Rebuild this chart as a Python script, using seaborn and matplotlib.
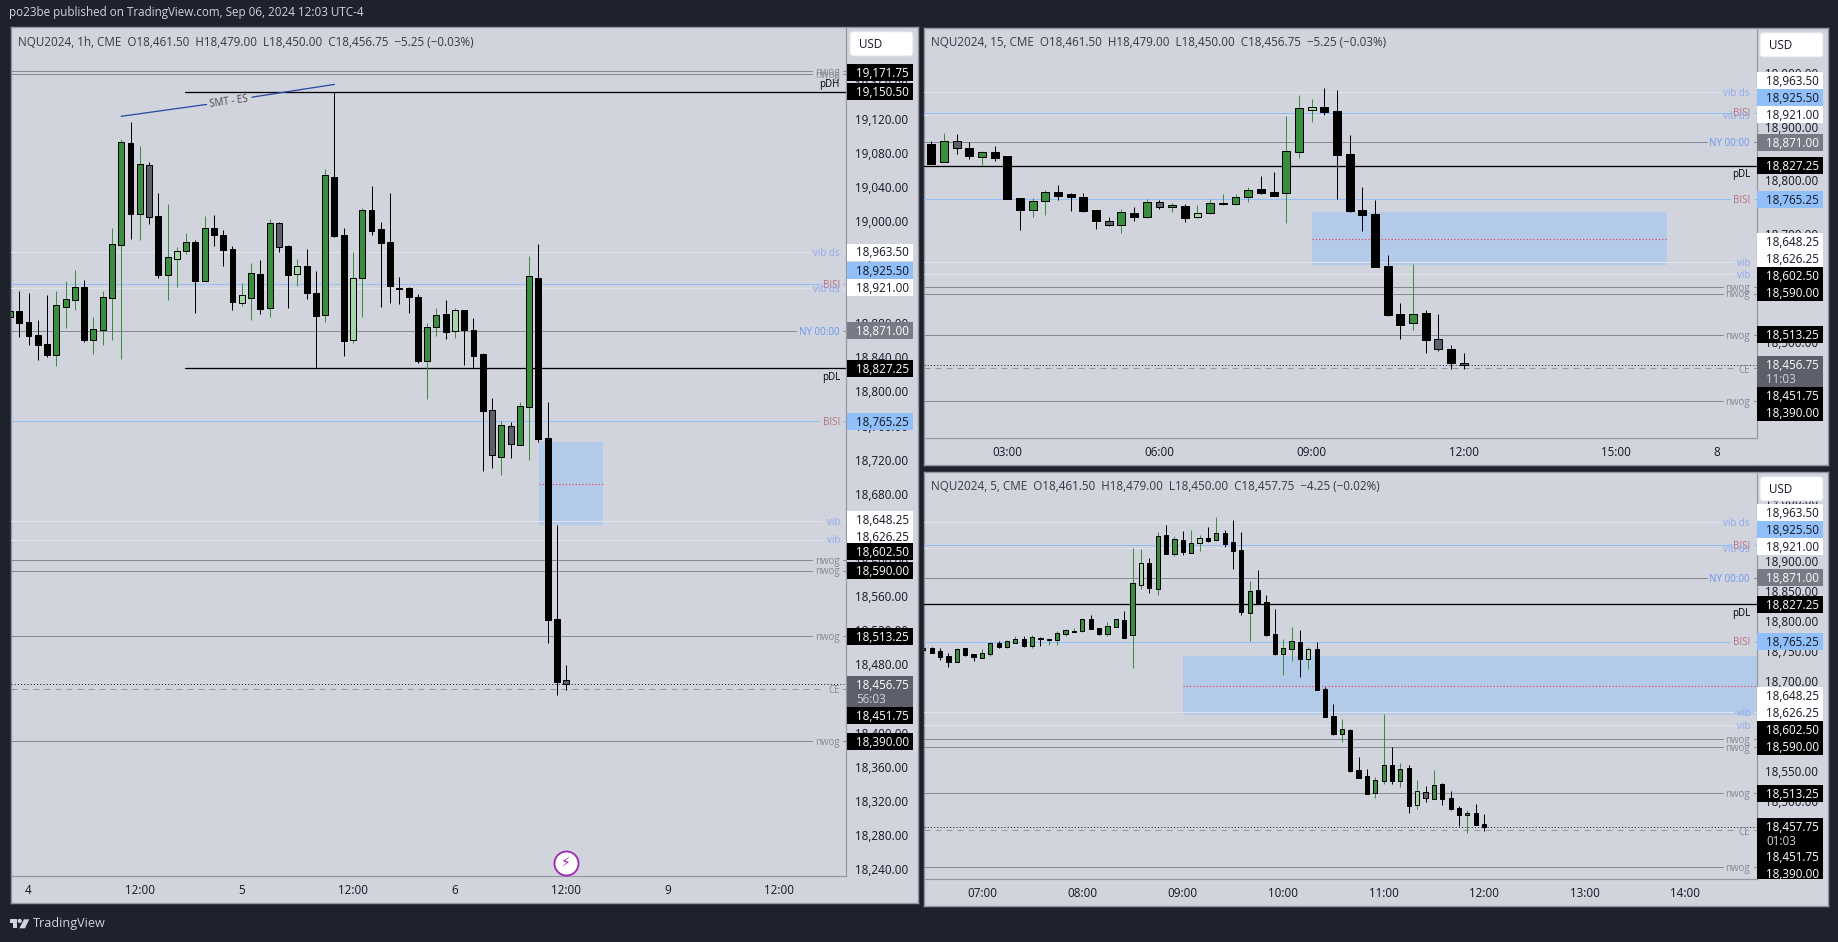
import numpy as np
import seaborn as sns
import matplotlib
matplotlib.use("Agg")
import matplotlib.pyplot as plt
from matplotlib.patches import Rectangle, FancyBboxPatch, Polygon, Circle
from matplotlib.transforms import IdentityTransform

# =============================================================================
# Data (NQU2024 on three timeframes)
# =============================================================================

# 1h candles
h1_kinds = "gkkkk" "gggkg" "gggkg" "skglg" "kgkkk" "lgkgs" "klkkg" "kklgk" "kkkkk" "ggklk" "kksgs" "ggkkks"
h1_open = [18887.7, 18894.3, 18881, 18866.2, 18855.6, 18843.1, 18899.4, 18907.6, 18922.5, 18860.7,
           18872.5, 18910, 18972.1, 19091.3, 19008.4, 19065.5, 19005.7, 18936.9, 18955.7, 18965.1,
           18975.2, 18929.9, 18991.2, 18983.4, 18967, 18904.1, 18910, 18937.7, 18898.2, 18997.1,
           18970.5, 18938.1, 18947.1, 18915.4, 18890, 19051.4, 18983.4, 18860.7, 18932.6, 19012.4,
           18990.5, 18975.2, 18921.3, 18921.3, 18910.7, 18836.1, 18876, 18890.4, 18870.5, 18895.5,
           18872, 18843.9, 18777.9, 18723.5, 18759.1, 18737.6, 18782.2, 18933, 18745, 18533.2, 18461.5]
h1_high = [18934.6, 18917.8, 18915.4, 18883.8, 18913.1, 18917.8, 18929.5, 18942.4, 18930.7, 18886.9,
           18918.2, 18991.6, 19096, 19115.9, 19087.8, 19069, 19032.7, 19019.8, 18969, 18985.8,
           18977.6, 19005.7, 19006.9, 18989.3, 18970.5, 18927.5, 18950.6, 18954.1, 19002.2, 18999.1,
           18971.7, 18955.3, 18967, 18941.2, 19060.8, 19150.5, 18991.6, 18963.5, 19015.1, 19040.9,
           18998.7, 19032.7, 18934.2, 18922.5, 18914.3, 18880.3, 18897.8, 18907.2, 18897.8, 18895.5,
           18886.1, 18845.1, 18792.3, 18765, 18764.2, 18787.6, 18958.8, 18972.9, 18787.2, 18643, 18479]
h1_low = [18877.9, 18864.2, 18854.5, 18836.9, 18840.8, 18830.2, 18874.8, 18895.5, 18858.4, 18843.9,
          18854.5, 18860.3, 18838.5, 18978.7, 18977.6, 18996.3, 18933, 18907.2, 18922.9, 18961.2,
          18892.4, 18929.9, 18970.5, 18947.1, 18895.5, 18900.2, 18883.8, 18890.8, 18887.7, 18963.5,
          18897.8, 18923.6, 18908.4, 18827.1, 18881.4, 18981.1, 18841.6, 18856.8, 18887.3, 18983.4,
          18899, 18903.7, 18902.5, 18892, 18833.4, 18791.5, 18865, 18861.5, 18862.7, 18831,
          18827.1, 18706.7, 18710.2, 18702, 18722, 18737.6, 18719.6, 18741.1, 18504.7, 18444.1, 18450]
h1_close = [18894.3, 18880.6, 18865.4, 18854.5, 18842.7, 18901, 18908, 18922.1, 18860.3, 18872.8,
            18910.4, 18972.5, 19092.1, 19008.4, 19066.3, 19004.9, 18936.5, 18957.3, 18964.3, 18974.8,
            18929.9, 18991.2, 18983.8, 18965.8, 18904.9, 18912.7, 18938.5, 18896.7, 18997.1, 18969.8,
            18936.5, 18946.7, 18915.4, 18888.5, 19053.4, 18982.3, 18859.2, 18932.6, 19012.4, 18988.5,
            18974.1, 18923.6, 18920.5, 18910.7, 18835.7, 18875.2, 18889.2, 18869.7, 18895.1, 18872,
            18842, 18777.5, 18725.9, 18760.3, 18738.8, 18782.5, 18935, 18744.2, 18532.1, 18459.8, 18456.75]

# 15 minute candles
m15_kinds = "kgskg" "kkkgg" "kkkks" "gkgsg" "klggg" "gkkgg" "lkkkk" "kkkgk" "sks"
m15_open = [18867.5, 18833.5, 18872.5, 18859.5, 18844, 18852.1, 18844.7, 18766.7, 18745.7, 18762.4,
            18777.8, 18774.1, 18768.5, 18744.4, 18724, 18716.6, 18738.9, 18731.4, 18759.3, 18750,
            18751.9, 18731.4, 18738.9, 18756.8, 18756.8, 18768.5, 18783.4, 18777.8, 18776, 18852.1,
            18931.3, 18935.6, 18928.2, 18848.4, 18744.4, 18737, 18640.5, 18551.4, 18534.7, 18553.2,
            18504.9, 18486.4, 18461.5]
m15_high = [18872.5, 18887.3, 18886, 18871.3, 18854.5, 18863.8, 18844.7, 18766.7, 18767.3, 18782.2,
            18791.4, 18776.6, 18776.6, 18744.4, 18732, 18746.9, 18750.6, 18765.4, 18763.6, 18757.4,
            18756.2, 18754.3, 18765.4, 18774.8, 18774.8, 18787.7, 18808.2, 18815.6, 18919.5, 18958.5,
            18951, 18971.5, 18967.8, 18884.2, 18787.7, 18763.6, 18661.5, 18572.4, 18644.8, 18559.4,
            18551.4, 18494.4, 18479]
m15_low = [18831, 18833.5, 18849.6, 18840.3, 18828.6, 18836.6, 18766, 18708.5, 18732.7, 18736.4,
           18764.2, 18743.8, 18741.3, 18710.4, 18716, 18703, 18725.2, 18730.8, 18747.5, 18741.9,
           18723.4, 18730.8, 18738.2, 18754.3, 18754.9, 18760.5, 18775.4, 18771.7, 18721.5, 18842.2,
           18909, 18922, 18766, 18741.3, 18706.7, 18639.9, 18548.9, 18506.2, 18522.9, 18480.2,
           18483.9, 18450, 18450]
m15_close = [18831, 18872.5, 18860.7, 18845.9, 18852.1, 18842.2, 18766, 18745.7, 18761.1, 18777.8,
             18771.7, 18769.8, 18743.8, 18725.2, 18716.6, 18740.7, 18732.7, 18759.3, 18750, 18753.7,
             18730.8, 18738.9, 18757.4, 18758, 18768.5, 18781.5, 18777.2, 18771.7, 18853.9, 18933.7,
             18935.6, 18927.6, 18847.7, 18743.2, 18736.4, 18639.9, 18550.8, 18532.2, 18552.6, 18504.4,
             18486.4, 18461.6, 18456.75]

# 5 minute candles
m5_kinds = "gkkkg" "kkggk" "ggkgk" "ggggg" "kkggk" "glkgk" "gkglk" "gkkkg" "kkkgg" "klkkk" "gkkkg" "gkgkl" "sgkkk" "gkk"
m5_open = [18750.7, 18754, 18749, 18740.7, 18731.8, 18754, 18744, 18738.5, 18745.1, 18762.3,
           18756.8, 18763.4, 18769, 18758.4, 18771.2, 18768.2, 18768.4, 18778.4, 18781.7, 18783.4,
           18802.2, 18787.2, 18778.4, 18790, 18800.5, 18776.7, 18859.8, 18895.3, 18853.2, 18941.8,
           18911.4, 18933.5, 18913, 18929.7, 18936.9, 18934.6, 18945.2, 18930.2, 18916.9, 18813.3,
           18850.4, 18830.5, 18777.3, 18745.1, 18753.4, 18764, 18736.8, 18752.3, 18685.8, 18641,
           18612.2, 18618.8, 18551.8, 18541.2, 18514.1, 18534, 18559.5, 18534, 18554.5, 18494.1,
           18514.6, 18504.1, 18528.5, 18504.7, 18488.6, 18476.4, 18479.7, 18461.5]
m5_high = [18754, 18755.7, 18754, 18745.7, 18754.6, 18754, 18744, 18752.9, 18764.5, 18766.2,
           18767.9, 18774.5, 18774.5, 18776.2, 18772.8, 18769, 18782.8, 18786.1, 18787.8, 18804.4,
           18809.4, 18787.2, 18797.8, 18802.2, 18816.1, 18920.8, 18919.1, 18903.6, 18947.4, 18959,
           18940.7, 18949, 18950.7, 18942.4, 18955.7, 18972.3, 18950.7, 18967.3, 18947.4, 18865.9,
           18884.2, 18842.7, 18819.4, 18769.5, 18789.5, 18784.5, 18756.2, 18764.5, 18689.2, 18661.5,
           18636.5, 18619.9, 18573.4, 18553.4, 18540.1, 18644.8, 18590, 18563.4, 18559.5, 18535.1,
           18525.2, 18551.8, 18529.6, 18516.8, 18491.9, 18485.3, 18495.2, 18479]
m5_low = [18750.7, 18746.8, 18734.6, 18723.5, 18731.8, 18741.8, 18732.9, 18738.5, 18741.8, 18754.6,
          18755.1, 18762.3, 18756.2, 18755.1, 18758.4, 18760.1, 18760.1, 18774.5, 18781.7, 18781.2,
          18786.1, 18776.2, 18775.1, 18790, 18771.2, 18721.9, 18853.2, 18846.5, 18842.7, 18910.8,
          18908, 18909.7, 18913, 18915.8, 18930.8, 18933, 18922.4, 18885.9, 18809.4, 18766.2,
          18827.1, 18774.5, 18742.9, 18709.7, 18732.9, 18706.3, 18719.6, 18684.7, 18640.4, 18609.9,
          18598.3, 18548.4, 18538.5, 18512.4, 18505.8, 18528.5, 18528.5, 18523.5, 18480.3, 18486.9,
          18498.6, 18504.1, 18493.6, 18485.8, 18458.7, 18447, 18460.3, 18450]
m5_close = [18754, 18746.8, 18740.2, 18731.8, 18752.3, 18743.5, 18740.2, 18745.7, 18762.3, 18756.8,
            18765.6, 18769, 18757.9, 18772.3, 18770.1, 18769, 18778.9, 18783.9, 18782.8, 18802.2,
            18786.7, 18778.4, 18790.6, 18802.2, 18771.7, 18862.1, 18895.3, 18854.8, 18940.2, 18911.4,
            18935.2, 18914.7, 18928.5, 18936.9, 18933, 18945.2, 18928, 18916.4, 18815, 18848.8,
            18829.4, 18776.7, 18744.6, 18754, 18765.6, 18736.8, 18752.3, 18684.7, 18640.4, 18611.6,
            18619.4, 18550.1, 18538.5, 18512.4, 18534.6, 18559.5, 18533.5, 18552.9, 18492.5, 18516.3,
            18504.7, 18526.3, 18504.1, 18487.5, 18477.5, 18479.7, 18460.9, 18457.75]

# horizontal levels shared by the three charts
level_names = ["vib ds", "BISI", "vib ds", "NY 00:00", "pDL", "BISI", "vib", "vib", "nwog", "nwog", "nwog", "CE", "nwog"]
level_prices = [18963.5, 18925.5, 18921, 18871, 18827.25, 18765.25, 18648.25, 18626.25, 18602.5, 18590, 18513.25, 18451.75, 18390]
h1_extra_names = ["nwog", "nwog", "pDH"]
h1_extra_prices = [19175.75, 19171.75, 19150.5]

fvg_top = 18740.5
fvg_bottom = 18643.5
fvg_mid = 18691.75

h1_ticks = [18240, 18280, 18320, 18360, 18400, 18440, 18480, 18520, 18560, 18600, 18640, 18680, 18720,
            18760, 18800, 18840, 18880, 18920, 18960, 19000, 19040, 19080, 19120, 19160]
m15_ticks = [18400, 18500, 18600, 18700, 18800, 18900, 19000]
m5_ticks = [18400, 18450, 18500, 18550, 18600, 18650, 18700, 18750, 18800, 18850, 18900, 18950, 19000]

h1_time_pos = [2, 14, 25, 37, 48, 60, 71, 83]
h1_time_labels = ["4", "12:00", "5", "12:00", "6", "12:00", "9", "12:00"]
m15_time_pos = [6, 18, 30, 42, 54, 62]
m15_time_labels = ["03:00", "06:00", "09:00", "12:00", "15:00", "8"]
m5_time_pos = [7, 19, 31, 43, 55, 67, 79, 91]
m5_time_labels = ["07:00", "08:00", "09:00", "10:00", "11:00", "12:00", "13:00", "14:00"]

h1_legend = "NQU2024, 1h, CME  O18,461.50  H18,479.00  L18,450.00  C18,456.75  \u22125.25 (\u22120.03%)"
m15_legend = "NQU2024, 15, CME  O18,461.50  H18,479.00  L18,450.00  C18,456.75  \u22125.25 (\u22120.03%)"
m5_legend = "NQU2024, 5, CME  O18,461.50  H18,479.00  L18,450.00  C18,457.75  \u22124.25 (\u22120.02%)"

# =============================================================================
# Styling
# =============================================================================

sns.set_theme(style="white")
plt.rcParams["font.family"] = ["Open Sans", "DejaVu Sans"]

W, H = 1838, 942
DARK = "#1e222d"
PANEL = "#d1d4dc"
EDGE = "#9598a1"
INK = "#131722"
FONT = 8.4
SMALL = 7.0
PX = 0.72

body_colors = {"g": "#388e3c", "l": "#a5d6a7", "k": "#000000", "s": "#5d606b"}
wick_colors = {"g": "#388e3c", "l": "#388e3c", "k": "#000000", "s": "#000000"}
line_colors = {"vib ds": "#e0e3eb", "vib": "#e0e3eb", "BISI": "#90bff9", "NY 00:00": "#868993",
               "nwog": "#868993", "pDL": "#000000", "pDH": "#000000", "CE": "#9598a1"}
text_colors = {"vib ds": "#8fa9f0", "vib": "#8fa9f0", "BISI": "#b5707f", "NY 00:00": "#6b97f0",
               "nwog": "#868993", "pDL": "#000000", "pDH": "#000000", "CE": "#868993"}
tag_colors = {"vib ds": "#ffffff", "vib": "#ffffff", "BISI": "#90bff9", "NY 00:00": "#787b86",
              "nwog": "#000000", "pDL": "#000000", "pDH": "#000000", "CE": "#000000"}
tag_text = {"vib ds": INK, "vib": INK, "BISI": INK, "NY 00:00": "#ffffff",
            "nwog": "#ffffff", "pDL": "#ffffff", "pDH": "#ffffff", "CE": "#ffffff"}
label_gap = {"vib ds": 36, "vib": 24, "BISI": 27, "NY 00:00": 50, "nwog": 34, "CE": 22}

fig = plt.figure(figsize=(W / 100, H / 100), dpi=100, facecolor=DARK)


def add_axes(x0, y0, x1, y1):
    return fig.add_axes([x0 / W, 1 - y1 / H, (x1 - x0) / W, (y1 - y0) / H])


def price_tag(sc, price, shift, text, bg, fg, x0, x1, note=None):
    # coloured box on the price scale, pushed by shift pixels as TradingView does
    y = sc.transData.transform((0, price))[1] + shift
    tall = 31 if note else 17
    top = y + 8.5
    sc.add_patch(Rectangle((x0, top - tall), x1 - x0, tall, transform=IdentityTransform(),
                           facecolor=bg, edgecolor="none", zorder=5))
    sc.text(x0 + 9, y - 1, text, transform=IdentityTransform(), color=fg, fontsize=FONT,
            ha="left", va="center", zorder=6, clip_on=True)
    if note:
        sc.text(x0 + 9, y - 15, note, transform=IdentityTransform(), color="#d1d4dc", fontsize=FONT,
                ha="left", va="center", zorder=6, clip_on=True)


def draw_panel(box, bar_x0, bar_step, body_px, anchor, kinds, o, h, l, c, ticks, time_pos, time_labels,
               legend, legend_dy, shifts, last_shift, last_color, countdown, fvg_span, extra=False, day_start=None):
    left, top, right, bottom, scale_x, time_y = box
    anchor_y, px_per_point = anchor

    bg = add_axes(left, top, right, bottom)
    bg.set(facecolor=PANEL, xticks=[], yticks=[])
    for spine in bg.spines.values():
        spine.set_color(EDGE)
        spine.set_linewidth(PX * 1.4)

    ax = add_axes(left, top, scale_x, time_y)
    ax.patch.set_alpha(0)
    ymax = 18963.5 + (anchor_y - top) / px_per_point
    ymin = 18963.5 - (time_y - anchor_y) / px_per_point
    ax.set_xlim((left - bar_x0) / bar_step, (scale_x - bar_x0) / bar_step)
    ax.set_ylim(ymin, ymax)
    sns.despine(ax=ax, top=True, left=True, right=False, bottom=False)
    for side in ["right", "bottom"]:
        ax.spines[side].set_color(EDGE)
        ax.spines[side].set_linewidth(PX * 1.2)
    ax.set_yticks([])
    ax.set_xticks(time_pos, time_labels)
    ax.tick_params(axis="x", length=0, pad=5.5, labelsize=FONT, labelcolor=INK)
    width_px = scale_x - left

    # imbalance zone with its midpoint
    ax.add_patch(Rectangle((fvg_span[0], fvg_bottom), fvg_span[1] - fvg_span[0], fvg_top - fvg_bottom,
                           facecolor="#90bff9", alpha=0.46, edgecolor="none", zorder=1.5))
    ax.plot(fvg_span, [fvg_mid, fvg_mid], color="#f7303f", lw=PX * 1.1, ls=(0, (1, 2)), zorder=1.7)

    # levels and their right hand labels
    names = level_names + (h1_extra_names if extra else [])
    prices = level_prices + (h1_extra_prices if extra else [])
    trans = ax.get_yaxis_transform()
    for name, price in zip(names, prices):
        if name in label_gap:
            ls = (0, (6, 5)) if name == "CE" else "-"
            ax.plot([0, 1 - label_gap[name] / width_px], [price, price], transform=trans,
                    color=line_colors[name], lw=PX, ls=ls, zorder=2)
            ax.plot([1 - 3 / width_px, 1], [price, price], transform=trans,
                    color=line_colors[name], lw=PX, zorder=2)
        else:
            ax.plot([day_start if day_start else (left - bar_x0) / bar_step, (scale_x - bar_x0) / bar_step],
                    [price, price], color=line_colors[name], lw=PX * 1.3, zorder=2,
                    scalex=False, scaley=False)
        dy = {"pDL": -9, "pDH": 8, "CE": -2}.get(name, -1.2)
        ax.annotate(name, xy=(1, price), xycoords=trans, xytext=(-6.5, dy), textcoords="offset pixels",
                    color=text_colors[name], fontsize=SMALL, ha="right", va="center", zorder=2.5)

    # dotted last price line
    ax.plot([0, 1], [c[-1], c[-1]], transform=trans, color="#131722", lw=PX, ls=(0, (1, 2.2)), zorder=2.2)

    # candles
    x = np.arange(len(o))
    o = np.array(o)
    c = np.array(c)
    ax.vlines(x, l, h, colors=[wick_colors[k] for k in kinds], lw=PX, zorder=3)
    ax.bar(x, np.abs(c - o), bottom=np.minimum(o, c), width=(body_px - 1) / bar_step,
           color=[body_colors[k] for k in kinds], edgecolor="black", linewidth=PX, zorder=4)

    fig.text((left + 7.5) / W, 1 - (top + 14.5 + legend_dy) / H, legend, color="#363a45", fontsize=FONT,
             ha="left", va="center")

    # price scale
    sc = add_axes(scale_x, top, right, time_y)
    sc.patch.set_alpha(0)
    sc.set_ylim(ymin, ymax)
    sc.set_xticks([])
    sc.set_yticks(ticks, [f"{t:,.2f}" for t in ticks])
    sc.tick_params(axis="y", length=0, pad=-6.4, labelsize=FONT, labelcolor=INK)
    for lab in sc.get_yticklabels():
        lab.set_ha("left")
    for spine in sc.spines.values():
        spine.set_visible(False)

    x0 = scale_x + 0.5
    x1 = scale_x + 66.5
    tag_names = level_names + h1_extra_names[1:] if extra else level_names
    tag_prices = level_prices + h1_extra_prices[1:] if extra else level_prices
    for name, price, shift in zip(tag_names, tag_prices, shifts):
        price_tag(sc, price, shift, f"{price:,.2f}", tag_colors[name], tag_text[name], x0, x1)
    price_tag(sc, c[-1], last_shift, f"{c[-1]:,.2f}", last_color, "#ffffff", x0, x1, note=countdown)

    usd = FancyBboxPatch((x0 + 5, H - top - 27), 59, 20.3, boxstyle="round,pad=2,rounding_size=3",
                         transform=IdentityTransform(), facecolor="#ffffff", edgecolor="#e0e3eb",
                         linewidth=PX, zorder=7)
    sc.add_patch(usd)
    sc.text(x0 + 12, H - top - 17.5, "USD", transform=IdentityTransform(), color=INK, fontsize=FONT,
            ha="left", va="center", zorder=8)
    return ax


# =============================================================================
# The three charts
# =============================================================================

h1_ax = draw_panel((10.5, 27, 918, 903, 846.5, 876), 10, 9.27, 6.9, (252, 0.853), h1_kinds,
                   h1_open, h1_high, h1_low, h1_close, h1_ticks, h1_time_pos, h1_time_labels, h1_legend, 0.5,
                   [0, 13.7, 0.6, 0, 0, 0, 1, 3, 8, 0, 0, -27, 0, 1.7, 1], 0, "#5d606b", "56:03",
                   [57.1, 64], extra=True, day_start=18.9)

m15_ax = draw_panel((923.5, 28, 1827.5, 465, 1756.5, 438), 931.3, 12.676, 8.9, (92.3, 0.5388), m15_kinds,
                    m15_open, m15_high, m15_low, m15_close, m15_ticks, m15_time_pos, m15_time_labels, m15_legend, 0.5,
                    [11.6, 15.1, 0.5, 0, 0, 0, 20.5, 15.3, 11.1, 0.8, 0, -27.6, -11.4], 1, "#5d606b", "11:03",
                    [30, 58])

m5_ax = draw_panel((923.5, 472, 1827.5, 906, 1756.5, 879.3), 923.3, 8.37, 5.2, (522.3, 0.6016), m5_kinds,
                   m5_open, m5_high, m5_low, m5_close, m5_ticks, m5_time_pos, m5_time_labels, m5_legend, 0,
                   [9.6, 15.5, 1.2, 0.6, 0, 0, 16.3, 12.5, 9.8, 0, 0, -26.5, -6], 0, "#000000", "01:03",
                   [31, 100])

# SMT trend line on the 1h chart, broken by its label
sns.lineplot(x=[12, 21.2], y=[19122.6, 19136.5], color="#2a4aa5", linewidth=PX * 1.3, ax=h1_ax)
sns.lineplot(x=[26.1, 35], y=[19145, 19160], color="#2a4aa5", linewidth=PX * 1.3, ax=h1_ax)
h1_ax.text(23.6, 19140, "SMT - ES", rotation=8, color="#434651", fontsize=SMALL,
           ha="center", va="center", rotation_mode="anchor")

# event marker under the last 1h candle
sns.scatterplot(x=[60], y=[18247], s=300, color="#ffffff", edgecolor="#9c27b0", linewidth=1.3,
                ax=h1_ax, zorder=6, clip_on=False)
h1_ax.text(60, 18247, "\u26a1", color="#9c27b0", fontsize=10, ha="center", va="center", zorder=7,
           family=["DejaVu Sans"])

# outer captions and the logo
fig.text(9 / W, 1 - 12.5 / H, "po23be published on TradingView.com, Sep 06, 2024 12:03 UTC-4",
         color="#d1d4dc", fontsize=FONT, ha="left", va="center")
logo_color = "#d1d4dc"
for pts in [[(10, 919.3), (16.7, 919.3), (16.7, 928.3), (13.3, 928.3), (13.3, 922.7), (10, 922.7)],
            [(24, 919.3), (29.3, 919.3), (25, 928.3), (19.3, 928.3)]]:
    fig.add_artist(Polygon([(px / W, 1 - py / H) for px, py in pts], transform=fig.transFigure,
                           facecolor=logo_color, edgecolor="none"))
fig.add_artist(Circle((19.7, H - 920.9), 2.1, transform=IdentityTransform(), facecolor=logo_color, edgecolor="none"))
fig.text(33 / W, 1 - 924 / H, "TradingView", color="#d1d4dc", fontsize=9.1, ha="left", va="center")

fig.savefig("out.png", dpi=100, facecolor=DARK)
